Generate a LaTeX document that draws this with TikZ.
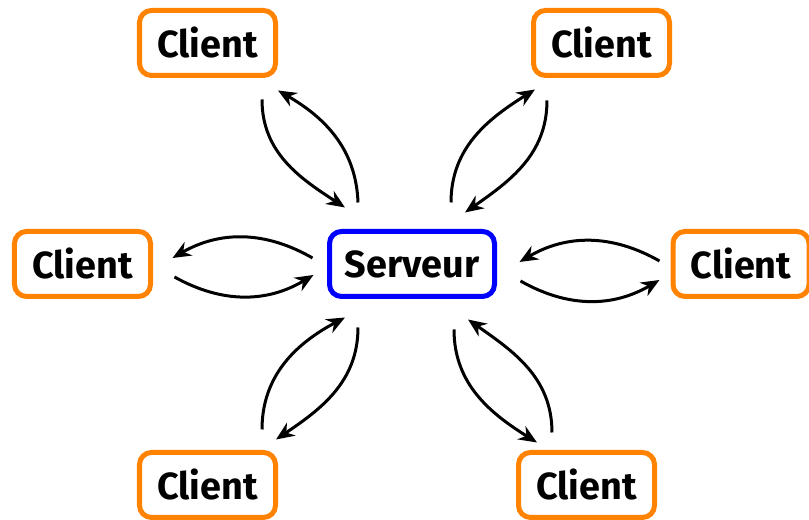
\documentclass[tikz,border=0pt]{standalone}
\usepackage{fontspec}
\setmainfont{Fira Sans}
\usepackage{tikz}
\usetikzlibrary{arrows.meta}
\definecolor{clientorange}{RGB}{255,130,0}
\definecolor{serverblue}{RGB}{0,0,255}

\begin{document}
\begin{tikzpicture}[
  >={Stealth[length=5.5mm/1.5, width=4mm/1.3]},
  every node/.style={font=\fontsize{21.5}{24}\selectfont\bfseries},
  client/.style={draw=clientorange, line width=0.1cm, rounded corners=0.24cm,
                 minimum width=2.72cm, minimum height=1.3cm},
  server/.style={client, draw=serverblue, minimum width=3.3cm},
  link/.style={->, line width=0.06cm}
]
\useasboundingbox (0,0) rectangle (16.18,10.4);

% --- Server in the middle ---
\node[server] (s) at (8.24,5.12) {Serveur};

% --- Clients around it ---
\node[client] (c1) at (4.15,9.54) {Client};
\node[client] (c2) at (12.03,9.54) {Client};
\node[client] (c3) at (1.65,5.12) {Client};
\node[client] (c4) at (14.82,5.12) {Client};
\node[client] (c5) at (4.15,0.70) {Client};
\node[client] (c6) at (11.73,0.70) {Client};

% --- Top left ---
\draw[link] ([shift={(1.09,-0.43)}]c1.south) to[out=-90, in=147] ([shift={(-1.34,0.43)}]s.north);
\draw[link] ([shift={(-1.08,0.53)}]s.north) to[out=92, in=-30] ([shift={(1.41,-0.25)}]c1.south);

% --- Top right ---
\draw[link] ([shift={(0.78,0.53)}]s.north) to[out=90, in=212] ([shift={(-1.33,-0.23)}]c2.south);
\draw[link] ([shift={(-1.09,-0.45)}]c2.south) to[out=-90, in=35] ([shift={(1.06,0.33)}]s.north);

% --- Left ---
\draw[link] ([shift={(-0.29,0.12)}]s.west) to[bend right] ([shift={(0.39,0.12)}]c3.east);
\draw[link] ([shift={(0.43,-0.26)}]c3.east) to[bend right] ([shift={(-0.27,-0.22)}]s.west);

% --- Right ---
\draw[link] ([shift={(-0.22,0.06)}]c4.west) to[bend right] ([shift={(0.45,0.04)}]s.east);
\draw[link] ([shift={(0.47,-0.34)}]s.east) to[bend right] ([shift={(-0.22,-0.32)}]c4.west);

% --- Bottom left ---
\draw[link] ([shift={(1.09,0.41)}]c5.north) to[out=90, in=208] ([shift={(-1.34,-0.37)}]s.south);
\draw[link] ([shift={(-1.08,-0.57)}]s.south) to[out=-90, in=34] ([shift={(1.37,0.21)}]c5.north);

% --- Bottom right ---
\draw[link] ([shift={(0.84,-0.61)}]s.south) to[out=-90, in=148] ([shift={(-0.99,0.15)}]c6.north);
\draw[link] ([shift={(-0.69,0.35)}]c6.north) to[out=90, in=-35] ([shift={(1.12,-0.41)}]s.south);

\end{tikzpicture}
\end{document}
